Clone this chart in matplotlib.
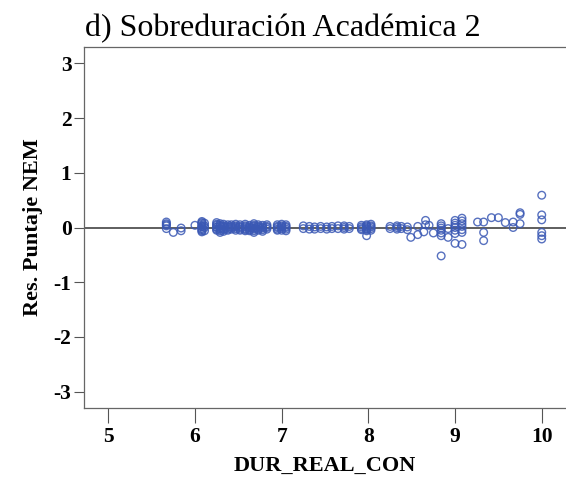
import matplotlib
matplotlib.use("Agg")
import matplotlib.pyplot as plt

# Columnas de DUR_REAL_CON y sus residuos
dur_cols = [5.67, 5.75, 5.84, 6.00, 6.08, 6.11, 6.25, 6.29, 6.33, 6.38, 6.42, 6.47,
            6.52, 6.58, 6.63, 6.68, 6.73, 6.78, 6.83, 6.95, 7.00, 7.05,
            7.25, 7.32, 7.38, 7.45, 7.52, 7.58, 7.65, 7.72, 7.78, 7.92, 7.98, 8.03,
            8.25, 8.33, 8.38, 8.45, 8.49, 8.57, 8.64, 8.66, 8.70, 8.75, 8.84, 8.92,
            9.00, 9.08, 9.26, 9.33, 9.42, 9.50, 9.58, 9.67, 9.75, 10.0]
res_cols = [
    [0.10, 0.07, 0.05, 0.03, -0.02],
    [-0.09],
    [-0.01, -0.06],
    [0.04],
    [0.11, 0.09, 0.07, 0.04, 0.02, 0.01, -0.02, -0.04, -0.06, -0.08],
    [0.08, 0.03, 0.00, -0.06],
    [0.09, 0.06, 0.04, 0.01, 0.00, -0.03, -0.05],
    [0.07, 0.04, 0.02, -0.01, -0.03, -0.06, -0.09],
    [0.06, 0.03, 0.01, -0.02, -0.04, -0.07],
    [0.05, 0.02, 0.00, -0.03, -0.05],
    [0.05, 0.02, 0.00, -0.03],
    [0.06, 0.03, 0.01, -0.02, -0.05],
    [0.05, 0.02, 0.00, -0.03, -0.05],
    [0.06, 0.03, 0.01, -0.02, -0.04, -0.06],
    [0.04, 0.01, -0.01, -0.04, -0.06],
    [0.07, 0.04, 0.02, -0.01, -0.03, -0.06, -0.09],
    [0.05, 0.02, 0.00, -0.03, -0.05],
    [0.04, 0.01, -0.01, -0.04, -0.07],
    [0.05, 0.02, 0.00, -0.03],
    [0.05, 0.02, 0.00, -0.03, -0.05],
    [0.06, 0.03, 0.01, -0.02, -0.05],
    [0.05, 0.02, 0.00, -0.03, -0.06],
    [0.03, -0.02],
    [0.02, -0.03],
    [0.01, -0.03],
    [0.02, -0.02],
    [0.01, -0.03],
    [0.02, -0.02],
    [0.03, -0.02],
    [0.03, 0.00, -0.03],
    [0.02, -0.02],
    [0.04, 0.01, -0.02, -0.04],
    [0.05, 0.03, 0.01, -0.02, -0.04, -0.06, -0.15],
    [0.06, 0.03, 0.01, -0.02, -0.05],
    [0.02, -0.02],
    [0.03, 0.00, -0.03],
    [0.02, -0.02],
    [0.01, -0.04],
    [-0.18],
    [0.02, -0.13],
    [-0.08],
    [0.13, 0.05],
    [0.04],
    [-0.10],
    [0.07, 0.03, -0.01, -0.05, -0.10, -0.15, -0.52],
    [-0.02, -0.18],
    [0.13, 0.08, 0.04, 0.00, -0.05, -0.11, -0.29],
    [0.17, 0.12, 0.07, 0.02, -0.04, -0.09, -0.31],
    [0.10],
    [0.10, -0.09, -0.24],
    [0.18],
    [0.18],
    [0.09],
    [0.10, 0.00],
    [0.27, 0.24, 0.07],
    [0.59, 0.23, 0.14, -0.09, -0.15, -0.21],
]
x_ticks = [5, 6, 7, 8, 9, 10]
y_ticks = [-3, -2, -1, 0, 1, 2, 3]

dur = []
res = []
for xc, ys in zip(dur_cols, res_cols):
    for yv in ys:
        dur.append(xc)
        res.append(yv)

plt.rcParams['font.family'] = ['Liberation Serif', 'DejaVu Serif']
plt.rcParams['axes.unicode_minus'] = False

fig = plt.figure(figsize=(5.66, 4.92), dpi=100)
ax = fig.add_axes([84/566, 84/492, 1 - 84/566, (408-47)/492])

ax.axhline(0, color='#333333', lw=1.1, zorder=1)
ax.scatter(dur, res, s=30, facecolors='none', edgecolors='#3A58B4',
           linewidths=1.0, alpha=0.85, zorder=2)

ax.set_xlim(4.72, 10.28)
ax.set_ylim(-3.3, 3.3)
ax.set_xticks(x_ticks)
ax.set_yticks(y_ticks)
ax.tick_params(axis='x', length=11, width=0.8, color='#555555', pad=3, labelsize=15.5)
ax.tick_params(axis='y', length=7, width=0.8, color='#555555', pad=2, labelsize=15.5)
for lab in ax.get_xticklabels() + ax.get_yticklabels():
    lab.set_fontweight('bold')

for side in ['left', 'bottom', 'top']:
    ax.spines[side].set_color('#666666')
    ax.spines[side].set_linewidth(0.9)
ax.spines['right'].set_visible(False)

ax.set_xlabel("DUR_REAL_CON", fontsize=16, fontweight='bold', labelpad=6)
ax.set_ylabel("Res. Puntaje NEM", fontsize=16, fontweight='bold', labelpad=8)

fig.text(85/566, 1 - 36/492, "d) Sobreduración Académica 2", fontsize=23,
         ha='left', va='baseline')

fig.savefig("out.png", dpi=100)
